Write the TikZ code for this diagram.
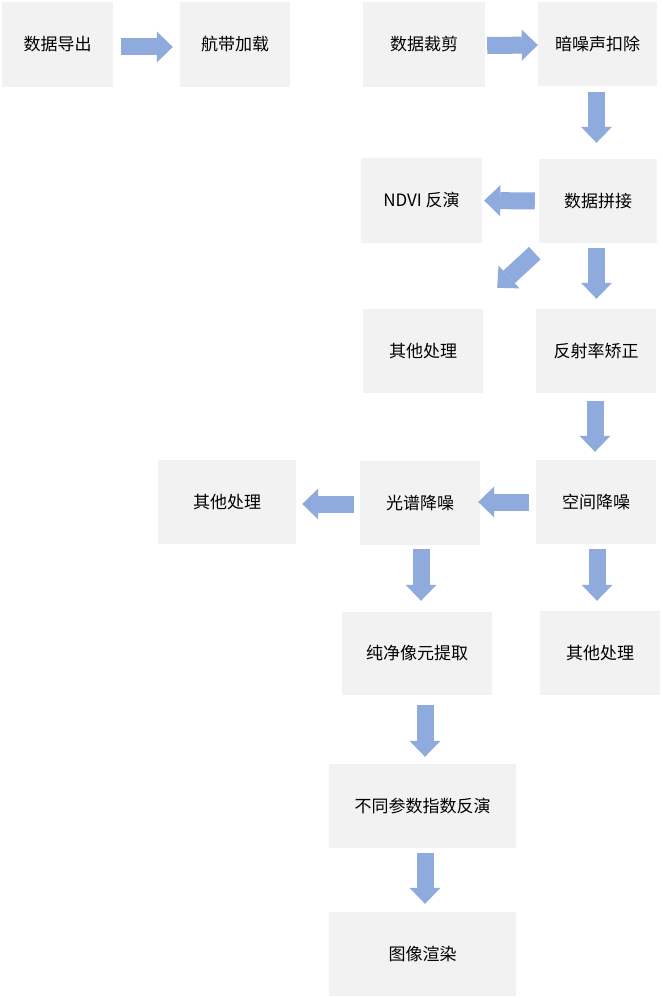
\documentclass[tikz,border=0pt]{standalone}
\usepackage{fontspec}
\setmainfont{Noto Sans CJK SC}
\usetikzlibrary{arrows.meta}
\definecolor{boxgray}{HTML}{F2F2F2}
\definecolor{arrowblue}{HTML}{8FAADC}
\begin{document}
\begin{tikzpicture}[x=1pt,y=-1pt,
  box/.style={fill=boxgray,draw=none,inner sep=0pt,font=\fontsize{17pt}{20pt}\selectfont,text=black},
  blk/.style={draw=arrowblue,line width=17pt,line cap=butt,
    -{Triangle[length=16pt 0 0,width=31pt 0 0,line width=0pt,fill=arrowblue,color=arrowblue]}}]
\useasboundingbox (0,0) rectangle (662,998);
\fill[white] (0,0) rectangle (662,998);
\node[box,minimum width=111pt,minimum height=85pt] (n1) at (57.5,44.5) {数据导出};
\node[box,minimum width=110pt,minimum height=85pt] (n2) at (235,44.5) {航带加载};
\node[box,minimum width=122pt,minimum height=85pt] (n3) at (424,44.5) {数据裁剪};
\node[box,minimum width=119pt,minimum height=84pt] (n4) at (597.5,44) {暗噪声扣除};
\node[box,minimum width=118pt,minimum height=84pt] (n5) at (598,201) {数据拼接};
\node[box,minimum width=121pt,minimum height=85pt] (n6) at (421.5,200.5) {NDVI 反演};
\node[box,minimum width=120pt,minimum height=84pt] (n7) at (423,351) {其他处理};
\node[box,minimum width=120pt,minimum height=84pt] (n8) at (596,351) {反射率矫正};
\node[box,minimum width=120pt,minimum height=84pt] (n9) at (596,502) {空间降噪};
\node[box,minimum width=120pt,minimum height=84pt] (n10) at (420,503) {光谱降噪};
\node[box,minimum width=138pt,minimum height=84pt] (n11) at (227,502) {其他处理};
\node[box,minimum width=150pt,minimum height=83pt] (n12) at (417,653.5) {纯净像元提取};
\node[box,minimum width=120pt,minimum height=84pt] (n13) at (600,653) {其他处理};
\node[box,minimum width=187pt,minimum height=84pt] (n14) at (422.5,806) {不同参数指数反演};
\node[box,minimum width=187pt,minimum height=84pt] (n15) at (422.5,954) {图像渲染};
% arrows
\draw[blk] ([xshift=8pt,yshift=-2.5pt]n1.east) -- ([xshift=-7pt,yshift=-2.5pt]n2.west);
\draw[blk] ([xshift=2pt,yshift=-1pt]n3.east) -- ([xshift=0pt,yshift=-1pt]n4.west);
\draw[blk] ([xshift=-1pt,yshift=-6pt]n4.south) -- ([xshift=-1.5pt,yshift=16pt]n5.north);
\draw[blk] ([xshift=-4pt]n5.west) -- ([xshift=2pt]n6.east);
\draw[blk] ([xshift=-4pt,yshift=-10pt]n5.south west) -- ([xshift=14pt,yshift=21pt]n7.north east);
\draw[blk] ([xshift=-1.5pt,yshift=-5pt]n5.south) -- ([xshift=0.5pt,yshift=10pt]n8.north);
\draw[blk] ([xshift=-1pt,yshift=-8pt]n8.south) -- ([xshift=-1pt,yshift=8pt]n9.north);
\draw[blk] ([xshift=-7pt]n9.west) -- ([xshift=-2pt,yshift=1pt]n10.east);
\draw[blk] ([xshift=-6pt,yshift=-1pt]n10.west) -- ([xshift=6pt,yshift=-2pt]n11.east);
\draw[blk] ([xshift=1pt,yshift=-4pt]n10.south) -- ([xshift=4pt,yshift=11pt]n12.north);
\draw[blk] ([xshift=1pt,yshift=-5pt]n9.south) -- ([xshift=-3pt,yshift=10pt]n13.north);
\draw[blk] ([xshift=8pt,yshift=-10pt]n12.south) -- ([xshift=2.5pt,yshift=7pt]n14.north);
\draw[blk] ([xshift=2.5pt,yshift=-5pt]n14.south) -- ([xshift=2.5pt,yshift=8pt]n15.north);
\end{tikzpicture}
\end{document}
